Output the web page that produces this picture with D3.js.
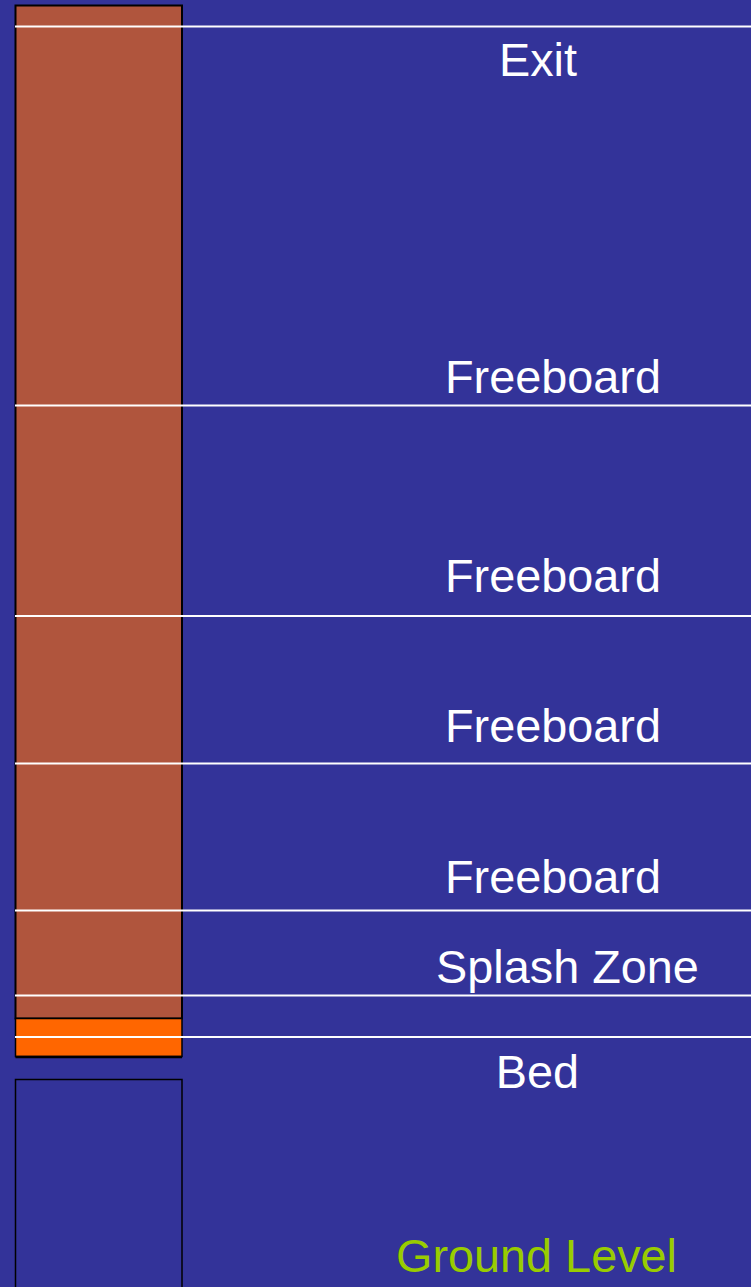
<!DOCTYPE html>
<html>
<head>
<meta charset="utf-8">
<script src="https://cdn.jsdelivr.net/npm/d3@7"></script>
<style>
  html, body { margin: 0; padding: 0; background: #333399; }
  svg { display: block; }
</style>
</head>
<body>
<div id="chart"></div>
<script>
// levels are in diagram units (0 = top of the drawing, grows downward)
const boundaryNames  = ['Exit top', 'Freeboard 1', 'Freeboard 2', 'Freeboard 3', 'Freeboard 4', 'Splash', 'Bed'];
const boundaryLevels = [26.5, 405.5, 616, 763.5, 910.5, 995.5, 1037];

const labelTexts  = ['Exit', 'Freeboard', 'Freeboard', 'Freeboard', 'Freeboard', 'Splash Zone', 'Bed', 'Ground Level'];
const labelLevels = [75.7, 393.3, 591.7, 741.7, 893.3, 983, 1088, 1272];
const labelCenters = [538, 553, 553, 553, 553, 567.5, 537.5, 536.5];

// column segments: [top, bottom]
const segNames  = ['riser', 'bed', 'plenum'];
const segTops   = [5.5, 1018.5, 1079.5];
const segBottoms = [1018.5, 1056.5, 1300];

const W = 751, H = 1287;
const y = d3.scaleLinear().domain([0, 1287]).range([0, H]);
const x = d3.scaleLinear().domain([0, 751]).range([0, W]);

const segFill = { riser: '#B0553D', bed: '#FF6600', plenum: '#333399' };

const svg = d3.select('#chart').append('svg')
  .attr('width', W).attr('height', H).attr('viewBox', [0, 0, W, H]);

svg.append('rect').attr('width', W).attr('height', H).attr('fill', '#333399');

const colX0 = x(15.5), colX1 = x(182);

// ---------- column ----------
svg.append('g').selectAll('rect').data(segNames).join('rect')
  .attr('x', colX0)
  .attr('y', (d, i) => y(segTops[i]))
  .attr('width', colX1 - colX0)
  .attr('height', (d, i) => y(segBottoms[i]) - y(segTops[i]))
  .attr('fill', d => segFill[d])
  .attr('stroke', '#000')
  .attr('stroke-width', (d) => d === 'riser' ? 2 : (d === 'bed' ? 1.5 : 1.5));

// heavier bottom edge under the bed
svg.append('line')
  .attr('x1', colX0).attr('x2', colX1)
  .attr('y1', y(1057)).attr('y2', y(1057))
  .attr('stroke', '#000').attr('stroke-width', 2.5);

// ---------- boundaries ----------
svg.append('g').selectAll('line').data(boundaryLevels).join('line')
  .attr('x1', colX0 - 0.5).attr('x2', W)
  .attr('y1', d => y(d)).attr('y2', d => y(d))
  .attr('stroke', '#fff')
  .attr('stroke-width', 2);

// ---------- labels ----------
svg.append('g').selectAll('text').data(labelTexts).join('text')
  .attr('x', (d, i) => x(labelCenters[i]))
  .attr('y', (d, i) => y(labelLevels[i]))
  .attr('text-anchor', 'middle')
  .attr('font-family', '"Liberation Sans", Arial, sans-serif')
  .attr('font-size', 46.8)
  .attr('fill', d => d === 'Ground Level' ? '#99CC00' : '#fff')
  .text(d => d);
</script>
</body>
</html>
